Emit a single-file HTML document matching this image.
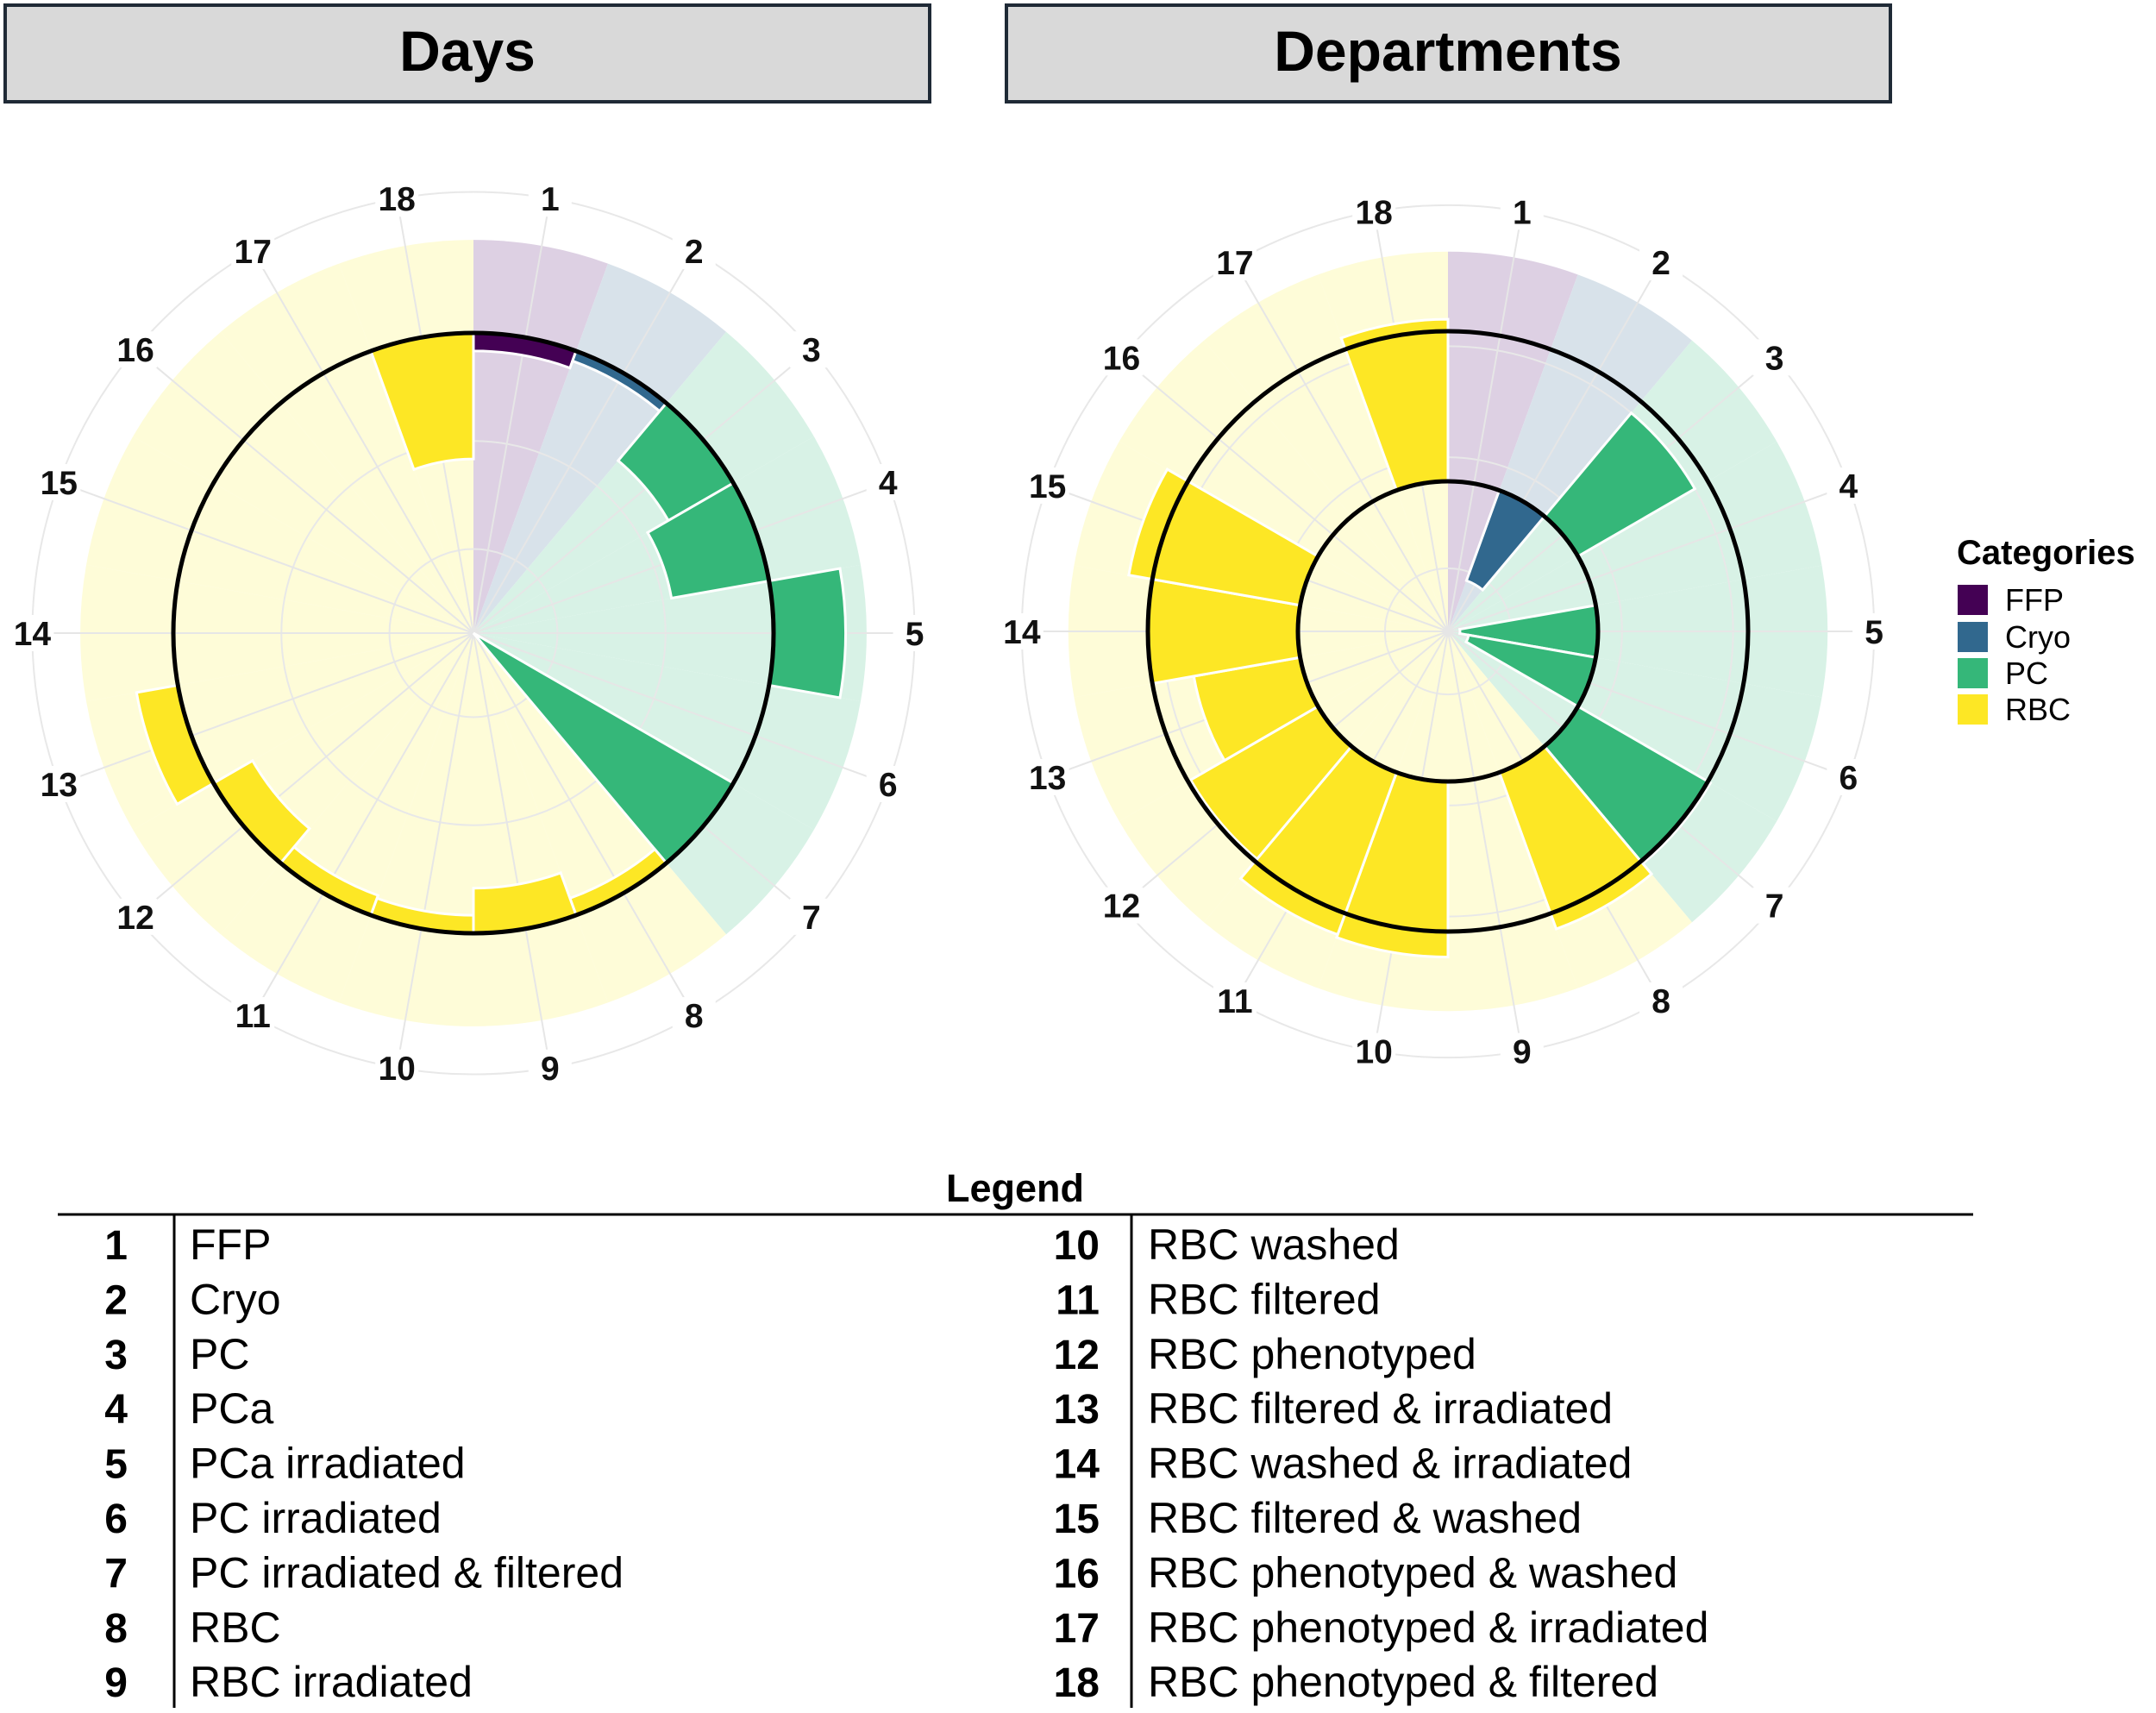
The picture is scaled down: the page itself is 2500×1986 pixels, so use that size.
<!DOCTYPE html>
<html><head><meta charset="utf-8"><style>
html,body{margin:0;padding:0;background:#fff;}
svg{display:block;font-family:"Liberation Sans",Arial,sans-serif;}
</style></head><body>
<svg id="chart" width="2500" height="1986" viewBox="0 0 2500 1986" xmlns="http://www.w3.org/2000/svg">
<rect x="6" y="6" width="1072" height="112" fill="#d9d9d9" stroke="#1f2a36" stroke-width="4"/>
<text x="542" y="82" text-anchor="middle" font-size="66" font-weight="bold" fill="#000">Days</text>
<rect x="1167" y="6" width="1025" height="112" fill="#d9d9d9" stroke="#1f2a36" stroke-width="4"/>
<text x="1679" y="82" text-anchor="middle" font-size="66" font-weight="bold" fill="#000">Departments</text>
<g id="days"></g>
<g id="dept"></g>
<g>
<text x="2269" y="654" font-size="40" font-weight="bold">Categories</text>
<rect x="2270" y="678" width="35" height="35" fill="#440154"/>
<text x="2325" y="708" font-size="36">FFP</text>
<rect x="2270" y="721" width="35" height="35" fill="#31688e"/>
<text x="2325" y="751" font-size="36">Cryo</text>
<rect x="2270" y="763" width="35" height="35" fill="#35b779"/>
<text x="2325" y="793" font-size="36">PC</text>
<rect x="2270" y="805" width="35" height="35" fill="#fde725"/>
<text x="2325" y="835" font-size="36">RBC</text>
</g>
<g id="tbl">
<text x="1177" y="1393" text-anchor="middle" font-size="45" font-weight="bold">Legend</text>
<line x1="67" y1="1408" x2="2288" y2="1408" stroke="#000" stroke-width="3"/>
<line x1="202" y1="1408" x2="202" y2="1980" stroke="#000" stroke-width="3"/>
<line x1="1312" y1="1408" x2="1312" y2="1980" stroke="#000" stroke-width="3"/>
</g>
</svg>
<script>
const labels = ["1","2","3","4","5","6","7","8","9","10","11","12","13","14","15","16","17","18"];
const categories = ["FFP","Cryo","PC","PC","PC","PC","PC","RBC","RBC","RBC","RBC","RBC","RBC","RBC","RBC","RBC","RBC","RBC"];
const daysValues = [0.94,0.965,0.75,0.67,1.24,1,0,0.94,0.85,0.94,0.93,0.85,1.14,1,1,1,1,0.58];
const deptValues = [0.5,0.18,0.95,0.5,0.04,0.07,1.01,1.055,0.5,1.085,1.075,0.99,0.86,1.0,1.08,0.5,0.5,1.04];
const productNames = ["FFP","Cryo","PC","PCa","PCa irradiated","PC irradiated","PC irradiated & filtered","RBC","RBC irradiated","RBC washed","RBC filtered","RBC phenotyped","RBC filtered & irradiated","RBC washed & irradiated","RBC filtered & washed","RBC phenotyped & washed","RBC phenotyped & irradiated","RBC phenotyped & filtered"];

const NS="http://www.w3.org/2000/svg";
const dark={FFP:"#440154",Cryo:"#31688e",PC:"#35b779",RBC:"#fde725"};
const light={FFP:"#ddd0e3",Cryo:"#d8e2ea",PC:"#d8f2e6",RBC:"#fefcd8"};
function pt(cx,cy,r,a){const t=a*Math.PI/180;return [cx+r*Math.sin(t),cy-r*Math.cos(t)];}
function sector(cx,cy,r0,r1,a0,a1){
  const p1=pt(cx,cy,r1,a0),p2=pt(cx,cy,r1,a1),p3=pt(cx,cy,r0,a1),p4=pt(cx,cy,r0,a0);
  let d="M"+p1+" A"+r1+","+r1+" 0 0 1 "+p2+" L"+p3;
  if(r0>0.01) d+=" A"+r0+","+r0+" 0 0 0 "+p4;
  return d+" Z";
}
function mk(g,tag,attrs){const e=document.createElementNS(NS,tag);for(const k in attrs)e.setAttribute(k,attrs[k]);g.appendChild(e);return e;}

function drawChart(gid,cx,cy,R,values,base,bgR,gridRs,labR,circles){
  const g=document.getElementById(gid);
  const rScale=v=>v*R;
  const step=360/labels.length;
  labels.forEach((l,i)=>{
    const p=mk(g,"path",{d:sector(cx,cy,0,rScale(bgR),i*step,(i+1)*step),fill:light[categories[i]]});
    
    
  });
  gridRs.forEach((gr,i)=>{
    const c=mk(g,"circle",{cx:cx,cy:cy,r:rScale(gr),fill:"none",stroke:"#e8e8e8","stroke-width":2});
    
    
  });
  labels.forEach((l,i)=>{
    const p=pt(cx,cy,rScale(gridRs[gridRs.length-1]),i*step+step/2);
    const s=mk(g,"line",{x1:cx,y1:cy,x2:p[0],y2:p[1],stroke:"#e6e6e6","stroke-width":2});
    
    
  });
  values.forEach((v,i)=>{
    if(Math.abs(v-base)<0.001) return;
    const r0=rScale(Math.min(v,base)),r1=rScale(Math.max(v,base));
    const b=mk(g,"path",{d:sector(cx,cy,r0,r1,i*step,(i+1)*step),fill:dark[categories[i]],stroke:"#fff","stroke-width":3});
    
    
  });
  circles.forEach(cr=>{
    const c=mk(g,"circle",{cx:cx,cy:cy,r:rScale(cr),fill:"none",stroke:"#000","stroke-width":5});
    
    
  });
  labels.forEach((l,i)=>{
    const p=pt(cx,cy,rScale(labR),i*step+step/2);
    const bgc=mk(g,"rect",{x:p[0]-25,y:p[1]-21,width:50,height:42,fill:"#fff"});
    
    
    const t=mk(g,"text",{x:p[0],y:p[1]+14,"text-anchor":"middle","font-size":39,"font-weight":"bold",fill:"#111"});
    t.textContent=l;
    
    
  });
}
drawChart("days",549,734,348,daysValues,1,1.31,[0.28,0.64,1.0,1.47],1.47,[1]);
drawChart("dept",1679,732,348,deptValues,0.5,1.265,[0.21,0.58,0.95,1.42],1.42,[0.5,1]);

const tbl=document.getElementById("tbl");
productNames.forEach((n,i)=>{
  const col=i<9?0:1,row=i%9;
  const y=1443+row*63.4+17;
  const numX=col?1275:148,txtX=col?1331:220;
  const a=mk(tbl,"text",{x:numX,y:y,"text-anchor":"end","font-size":48,"font-weight":"bold"});
  a.textContent=labels[i];
  
  
  const b=mk(tbl,"text",{x:txtX,y:y,"font-size":50});
  b.textContent=n;
  
  
});
</script>
</body></html>
